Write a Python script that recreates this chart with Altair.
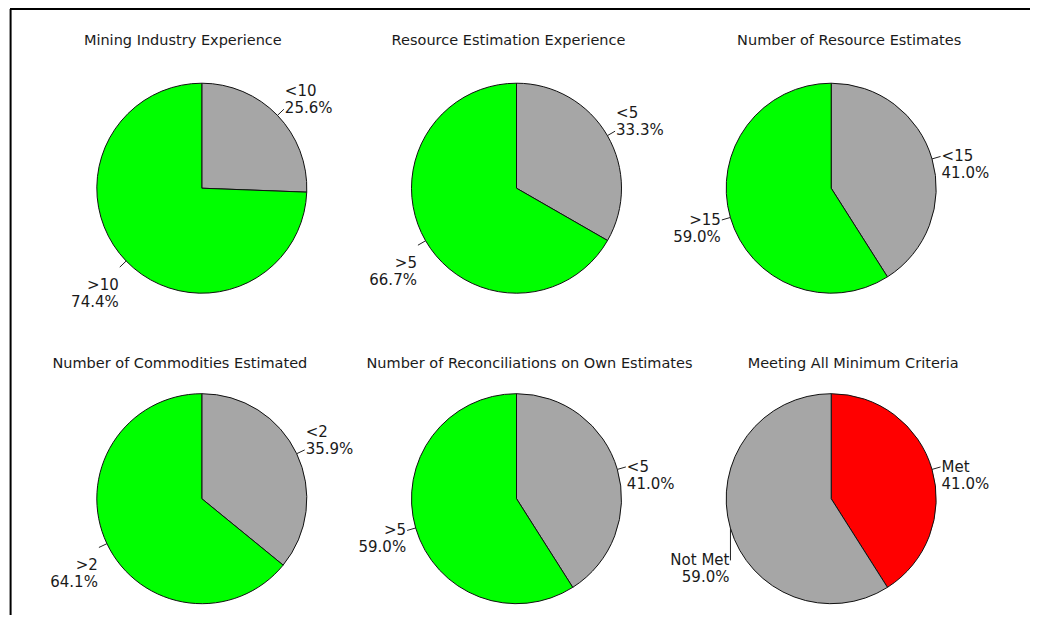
import altair as alt
import pandas as pd

# ---- data ----
titles = [
    "Mining Industry Experience",
    "Resource Estimation Experience",
    "Number of Resource Estimates",
    "Number of Commodities Estimated",
    "Number of Reconciliations on Own Estimates",
    "Meeting All Minimum Criteria",
]
categories = [["<10", ">10"], ["<5", ">5"], ["<15", ">15"],
              ["<2", ">2"], ["<5", ">5"], ["Met", "Not Met"]]
percents = [[25.6, 74.4], [33.3, 66.7], [41.0, 59.0],
            [35.9, 64.1], [41.0, 59.0], [41.0, 59.0]]

# ---- layout (page pixel coordinates) ----
PIE_CX = [202, 517, 832]
PIE_CY = [188.5, 499.5]
R = 105
LEAD = 9
TITLE_X = [183, 509, 850, 180, 530, 854]
TITLE_Y = [41, 365]
W, H = 1023, 608

rows = []
for p, (cats, pcts) in enumerate(zip(categories, percents)):
    for k, (c, v) in enumerate(zip(cats, pcts)):
        if p == 5:
            group = c
        else:
            group = "lower" if k == 0 else "upper"
        rows.append({
            "panel": p, "order": k, "category": c, "pct": v, "group": group,
            "label": f"{c}\n{v:.1f}%",
            "cx": PIE_CX[p % 3], "cy": PIE_CY[p // 3],
            "shift": 30 if c == "Not Met" else 0,
        })
df = pd.DataFrame(rows)

title_df = pd.DataFrame({
    "title": titles,
    "tx": TITLE_X,
    "ty": [TITLE_Y[i // 3] for i in range(6)],
})

xs = alt.Scale(domain=[8, 8 + W], nice=False, zero=False)
ys = alt.Scale(domain=[8, 8 + H], nice=False, zero=False, reverse=True)

base = (
    alt.Chart(df)
    .transform_window(cum="sum(pct)", groupby=["panel"],
                      sort=[alt.SortField("order")], frame=[None, 0])
    .transform_calculate(a0="(datum.cum - datum.pct) / 100 * 2 * PI")
    .transform_calculate(a1="datum.cum / 100 * 2 * PI")
    .transform_calculate(mid="(datum.cum - datum.pct / 2) / 100 * 2 * PI")
    .transform_calculate(x1=f"datum.cx + {R} * sin(datum.mid)")
    .transform_calculate(y1=f"datum.cy - {R} * cos(datum.mid)")
    .transform_calculate(x2=f"datum.shift ? datum.x1 : datum.cx + {R + LEAD} * sin(datum.mid)")
    .transform_calculate(y2=f"datum.cy - {R + LEAD} * cos(datum.mid) + datum.shift")
    .transform_calculate(side="sin(datum.mid) > 0 ? 1 : -1")
    .transform_calculate(tx="datum.x2 + datum.side")
    .transform_calculate(
        ty="datum.y2 + (datum.shift ? 0 : (cos(datum.mid) > 0.35 ? -18 : (cos(datum.mid) < -0.35 ? 18 : 0)))"
    )
)

pies = base.mark_arc(radius=R, stroke="#111111", strokeWidth=1).encode(
    x=alt.X("cx:Q", scale=xs, axis=None),
    y=alt.Y("cy:Q", scale=ys, axis=None),
    theta=alt.Theta("a0:Q", scale=None, stack=None),
    theta2=alt.Theta2("a1:Q"),
    color=alt.Color("group:N", legend=None,
                    scale=alt.Scale(domain=["lower", "upper", "Met", "Not Met"],
                                    range=["#A6A6A6", "#00FF00", "#FF0000", "#A6A6A6"])),
)

leaders = base.mark_rule(color="#222222", strokeWidth=1).encode(
    x=alt.X("x1:Q", scale=xs, axis=None),
    y=alt.Y("y1:Q", scale=ys, axis=None),
    x2="x2:Q", y2="y2:Q",
)

label_common = dict(fontSize=15, font="DejaVu Sans", color="#1a1a1a",
                    baseline="middle", lineBreak="\n", lineHeight=17)
labels_right = base.transform_filter("datum.side > 0").mark_text(align="left", **label_common).encode(
    x=alt.X("tx:Q", scale=xs, axis=None), y=alt.Y("ty:Q", scale=ys, axis=None), text="label:N")
labels_left = base.transform_filter("datum.side < 0").mark_text(align="right", **label_common).encode(
    x=alt.X("tx:Q", scale=xs, axis=None), y=alt.Y("ty:Q", scale=ys, axis=None), text="label:N")

title_marks = alt.Chart(title_df).mark_text(
    fontSize=14.5, font="DejaVu Sans", color="#1a1a1a", align="center", baseline="middle"
).encode(
    x=alt.X("tx:Q", scale=xs, axis=None), y=alt.Y("ty:Q", scale=ys, axis=None), text="title:N")

frame_df = pd.DataFrame({"k": [0]})
frame_left = alt.Chart(frame_df).mark_rule(color="black", strokeWidth=2).encode(
    x=alt.datum(10.6), y=alt.datum(9), y2=alt.datum(8 + H))
frame_top = alt.Chart(frame_df).mark_rule(color="black", strokeWidth=2).encode(
    x=alt.datum(10), x2=alt.datum(8 + W), y=alt.datum(9))

chart = alt.layer(pies, leaders, labels_right, labels_left, title_marks, frame_left, frame_top).properties(
    width=W, height=H,
    autosize=alt.AutoSizeParams(type="fit", contains="padding"),
    padding=0,
    background="white",
).configure_view(stroke=None)

chart.save("out.html", embed_options={"renderer": "svg", "actions": False})
